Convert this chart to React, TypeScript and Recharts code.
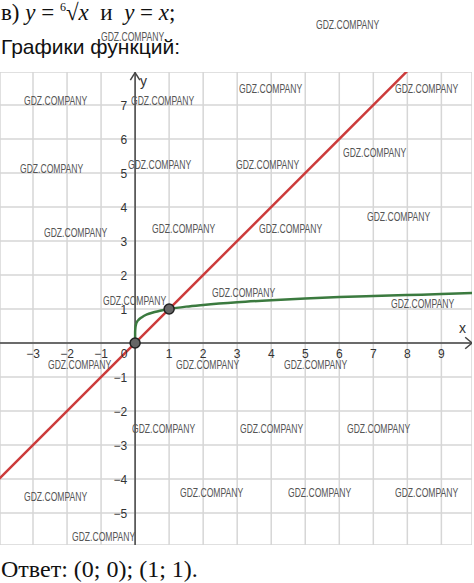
import { CartesianGrid, Line, LineChart, ReferenceDot, ReferenceLine, XAxis, YAxis } from "recharts";

// grid / tick values
const gridX = [-3, -2, -1, 0, 1, 2, 3, 4, 5, 6, 7, 8, 9];
const gridY = [-5, -4, -3, -2, -1, 0, 1, 2, 3, 4, 5, 6, 7];
const xTickLabels = [-3, -2, -1, 1, 2, 3, 4, 5, 6, 7, 8, 9];
const yTickLabels = [-5, -4, -3, -2, -1, 1, 2, 3, 4, 5, 6, 7];

// y = sixth root of x (green)
const rootX = [0, 0.001, 0.01, 0.03, 0.06, 0.1, 0.2, 0.35, 0.5, 0.7, 1, 1.5, 2, 3, 4, 5, 6, 7, 8, 9, 9.9];
const rootY = [0, 0.32, 0.46, 0.56, 0.63, 0.68, 0.76, 0.84, 0.89, 0.94, 1, 1.07, 1.12, 1.2, 1.26, 1.31, 1.35, 1.38, 1.41, 1.44, 1.47];

// y = x (red)
const lineX = [-4, 8];
const lineY = [-4, 8];

// intersection points
const crossX = [0, 1];
const crossY = [0, 1];

const rootData = rootX.map((x, i) => ({ x, y: rootY[i] }));
const lineData = lineX.map((x, i) => ({ x, y: lineY[i] }));

const watermarks: [number, number][] = [
  [316, 25], [101, 37], [24, 101], [131, 101], [239, 89], [395, 89], [20, 169], [128, 165],
  [236, 165], [343, 153], [367, 217], [44, 233], [152, 229], [259, 229], [103, 301], [212, 293],
  [391, 304], [48, 365], [176, 365], [284, 365], [132, 429], [240, 429], [347, 429], [24, 497],
  [180, 493], [288, 493], [395, 493], [72, 537],
];

const fmt = (v: number) => (v < 0 ? "\u2212" + Math.abs(v) : String(v));

const tickFont = { fontFamily: "Liberation Sans, Arial", fontSize: 12, fill: "#333" };

export default function App() {
  return (
    <div style={{ position: "absolute", left: 0, top: 0, width: 474, height: 583, background: "#fff", overflow: "hidden" }}>
      <div style={{ position: "absolute", left: 1, top: 0, fontFamily: "'Liberation Serif', serif", fontSize: 23, color: "#111", whiteSpace: "nowrap" }}>
        в) <i>y</i> = <sup style={{ fontSize: 12 }}>6</sup>√<i>x</i>&nbsp; и&nbsp; <i>y</i> = <i>x</i>;
      </div>
      <div style={{ position: "absolute", left: 1, top: 35, fontFamily: "'Liberation Sans', sans-serif", fontSize: 21, color: "#111", whiteSpace: "nowrap" }}>
        Графики функций:
      </div>
      <div style={{ position: "absolute", left: 0, top: 72 }}>
        <LineChart width={472} height={473} margin={{ top: 0, right: 0, bottom: 0, left: 0 }}>
          <XAxis type="number" dataKey="x" domain={[-3.97, 9.9]} ticks={gridX} hide allowDataOverflow />
          <YAxis type="number" dataKey="y" domain={[-5.94, 7.97]} ticks={gridY} hide allowDataOverflow />
          <CartesianGrid stroke="#d6d6d6" strokeWidth={1.5} />
          <ReferenceLine y={0} stroke="#444" strokeWidth={1.5} />
          <ReferenceLine x={0} stroke="#444" strokeWidth={1.5} />
          <ReferenceLine segment={[{ x: 9.7, y: 0.17 }, { x: 9.9, y: 0 }]} stroke="#444" strokeWidth={1.5} />
          <ReferenceLine segment={[{ x: 9.7, y: -0.17 }, { x: 9.9, y: 0 }]} stroke="#444" strokeWidth={1.5} />
          <ReferenceLine segment={[{ x: -0.14, y: 7.73 }, { x: 0, y: 7.95 }]} stroke="#444" strokeWidth={1.5} />
          <ReferenceLine segment={[{ x: 0.14, y: 7.73 }, { x: 0, y: 7.95 }]} stroke="#444" strokeWidth={1.5} />
          {xTickLabels.map((v) => (
            <ReferenceDot
              key={"x" + v}
              x={v}
              y={0}
              r={0}
              label={(p: any) => (
                <text x={p.viewBox.x} y={p.viewBox.y + 15} textAnchor="middle" {...tickFont}>
                  {fmt(v)}
                </text>
              )}
            />
          ))}
          {yTickLabels.map((v) => (
            <ReferenceDot
              key={"y" + v}
              x={0}
              y={v}
              r={0}
              label={(p: any) => (
                <text x={p.viewBox.x - 8} y={p.viewBox.y + 5} textAnchor="end" {...tickFont}>
                  {fmt(v)}
                </text>
              )}
            />
          ))}
          <ReferenceDot
            x={0}
            y={0}
            r={0}
            label={(p: any) => (
              <text x={p.viewBox.x - 11} y={p.viewBox.y + 15} textAnchor="middle" {...tickFont}>
                0
              </text>
            )}
          />
          <ReferenceDot
            x={9.62}
            y={0.28}
            r={0}
            label={(p: any) => (
              <text x={p.viewBox.x} y={p.viewBox.y} textAnchor="middle" fontFamily="Liberation Sans, Arial" fontSize={14} fill="#333">
                x
              </text>
            )}
          />
          <ReferenceDot
            x={0.25}
            y={7.55}
            r={0}
            label={(p: any) => (
              <text x={p.viewBox.x} y={p.viewBox.y} textAnchor="middle" fontFamily="Liberation Sans, Arial" fontSize={14} fill="#333">
                y
              </text>
            )}
          />
          <Line data={lineData} dataKey="y" type="linear" stroke="#cc3b3b" strokeWidth={2.5} dot={false} isAnimationActive={false} />
          <Line data={rootData} dataKey="y" type="monotone" stroke="#3b7a3f" strokeWidth={2.5} dot={false} isAnimationActive={false} />
          {crossX.map((x, i) => (
            <ReferenceDot key={"c" + i} x={x} y={crossY[i]} r={5} fill="#666" stroke="#222" strokeWidth={1.5} />
          ))}
        </LineChart>
      </div>
      {watermarks.map(([l, t], i) => (
        <div
          key={i}
          style={{
            position: "absolute",
            left: l,
            top: t - 8,
            fontFamily: "'Liberation Sans', sans-serif",
            fontSize: 13,
            color: "#555",
            whiteSpace: "nowrap",
            transform: "scaleX(0.66)",
            transformOrigin: "0 0",
          }}
        >
          GDZ.COMPANY
        </div>
      ))}
      <div style={{ position: "absolute", left: 1, top: 556, fontFamily: "'Liberation Serif', serif", fontSize: 24, color: "#111", whiteSpace: "nowrap" }}>
        Ответ: (0; 0); (1; 1).
      </div>
    </div>
  );
}
